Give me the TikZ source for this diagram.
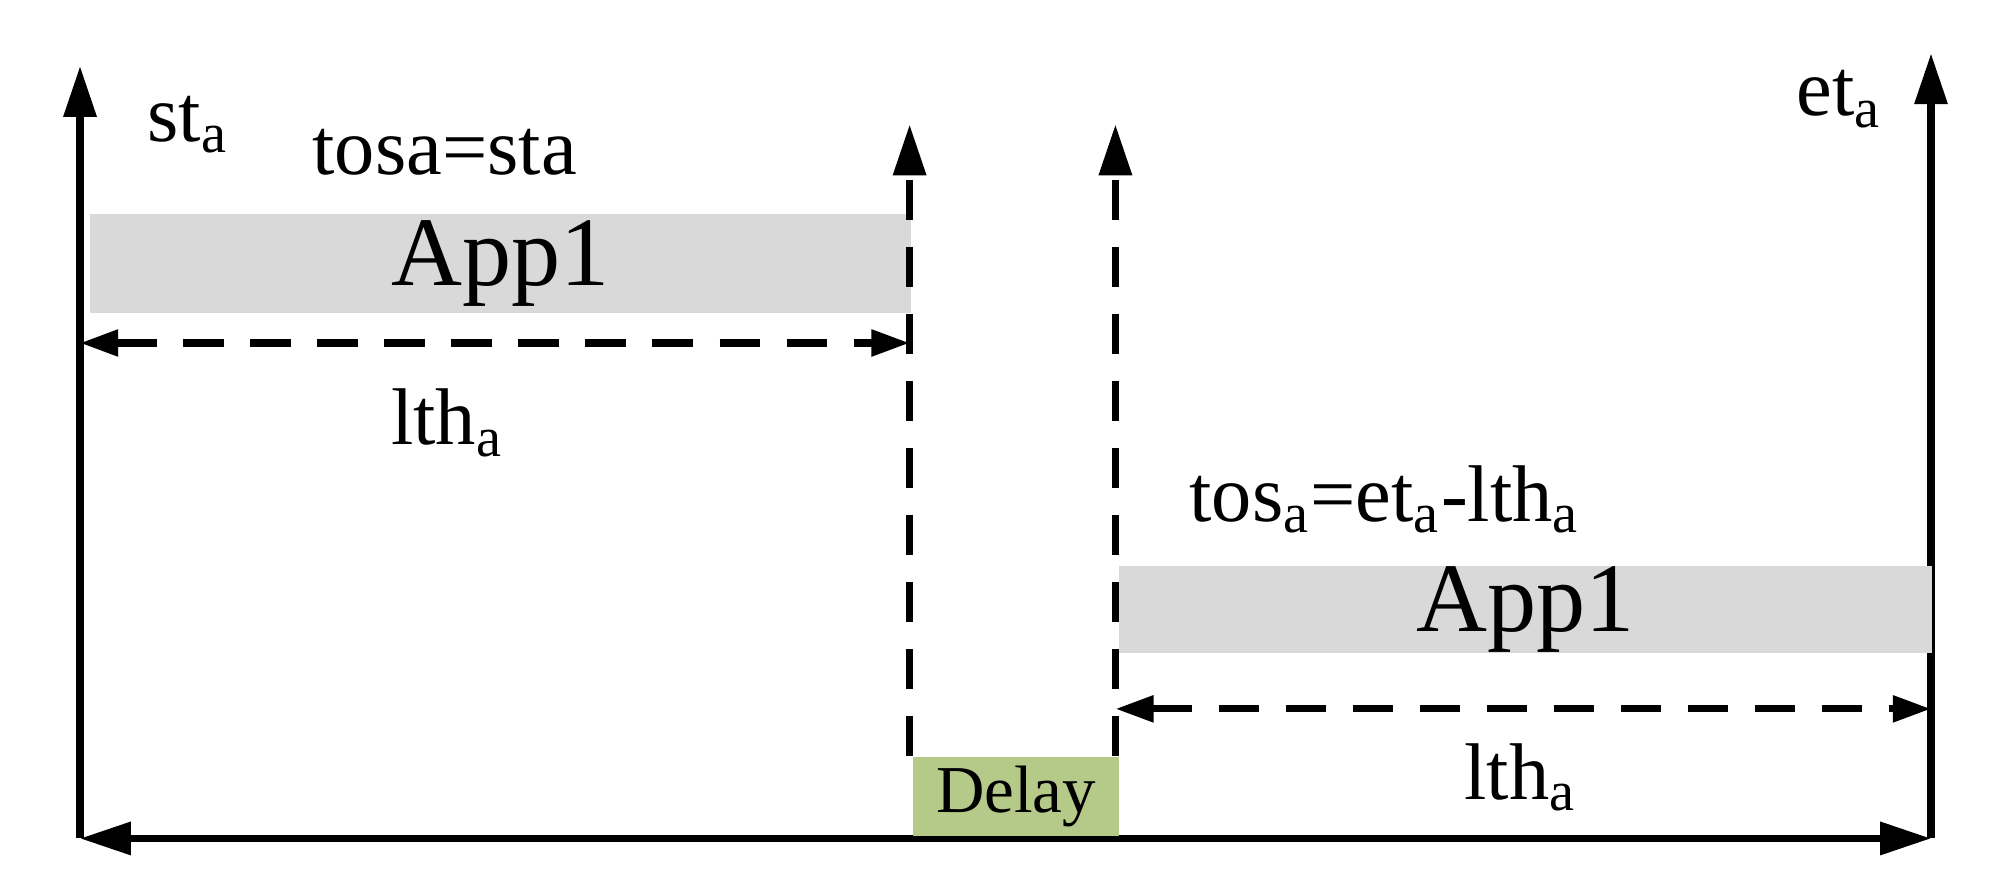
\documentclass[tikz,border=0pt]{standalone}
\usepackage{fontspec}
\setmainfont{Liberation Serif}
\usetikzlibrary{arrows.meta}
\newcommand{\sub}[1]{\textsubscript{#1}}
\begin{document}
\begin{tikzpicture}[x=0.01cm,y=-0.01cm,
  axis/.style={line width=1.6pt},
  tip/.style={-{Triangle[length=0.4cm,width=0.25cm]}},
  dashline/.style={line width=1.6pt, dash pattern=on 9pt off 6pt},
  app/.style={rectangle, fill=black!15, inner sep=0pt},
  lbl/.style={font=\fontsize{18}{21}\selectfont}]

\useasboundingbox (0,0) rectangle (1568,704);

% axes
\draw (63,660) coordinate (o);
\draw (1520,660) coordinate (e);
\draw (63,52) coordinate (otop);
\draw (1520,42) coordinate (etop);
\draw [axis, tip] (o) -- (otop);
\draw [axis, tip] (e) -- (etop);
\draw [axis, {Triangle[length=0.4cm,width=0.25cm]}-{Triangle[length=0.4cm,width=0.25cm]}] (o) -- (e);

% app boxes
\draw (70,168) node (app1) [app, anchor=north west, minimum width=6.46cm, minimum height=0.78cm] {};
\draw (app1) node [font=\fontsize{22}{24}\selectfont] {App1};
\draw (880,445) node (app2) [app, anchor=north west, minimum width=6.40cm, minimum height=0.68cm] {};
\draw (app2) node [font=\fontsize{22}{24}\selectfont] {App1};

% delay
\draw (718,595) node (delay) [rectangle, fill={rgb,255:red,181;green,202;blue,136}, anchor=north west, minimum width=1.62cm, minimum height=0.62cm, inner sep=0pt] {};
\draw (delay) node [font=\fontsize{15}{17}\selectfont] {Delay};

% dashed limits
\draw (716,595) coordinate (d1);
\draw (716,98) coordinate (d1top);
\draw (878,595) coordinate (d2);
\draw (878,98) coordinate (d2top);
\draw [dashline, tip] (d1) -- (d1top);
\draw [dashline, tip] (d2) -- (d2top);

\draw (63,270) coordinate (l1a);
\draw (716,270) coordinate (l1b);
\draw [dashline, {Triangle[length=0.3cm,width=0.2cm]}-{Triangle[length=0.3cm,width=0.2cm]}] (l1a) -- (l1b);
\draw (878,558) coordinate (l2a);
\draw (1520,558) coordinate (l2b);
\draw [dashline, {Triangle[length=0.3cm,width=0.2cm]}-{Triangle[length=0.3cm,width=0.2cm]}] (l2a) -- (l2b);

% labels
\draw (148,98) node [lbl] {st\sub{a}};
\draw (350,120) node [lbl] {tosa=sta};
\draw (352,333) node [lbl] {lth\sub{a}};
\draw (1090,393) node [lbl] {tos\sub{a}=et\sub{a}-lth\sub{a}};
\draw (1197,612) node [lbl] {lth\sub{a}};
\draw (1448,78) node [lbl] {et\sub{a}};

\end{tikzpicture}
\end{document}
